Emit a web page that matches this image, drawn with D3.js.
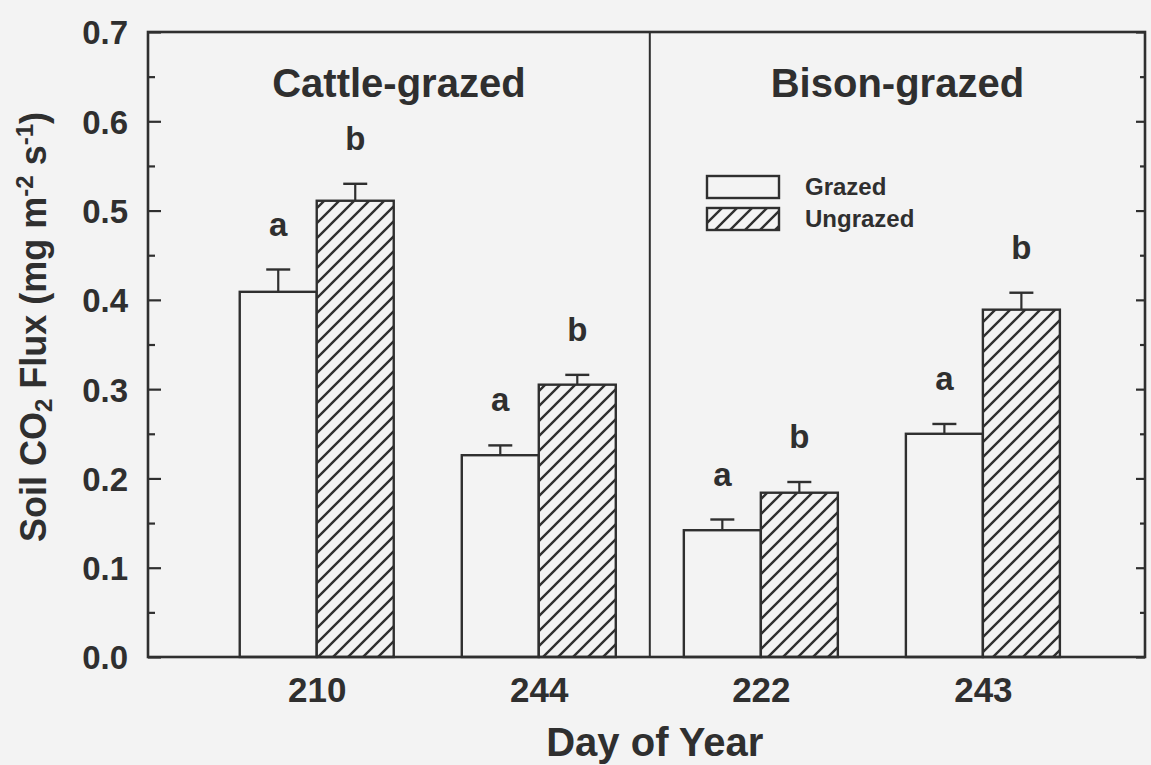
<!DOCTYPE html>
<html>
<head>
<meta charset="utf-8">
<script src="https://cdn.jsdelivr.net/npm/d3@7"></script>
<style>
  body { margin: 0; background: #f3f3f3; }
  text { font-family: "Liberation Sans", Arial, Helvetica, sans-serif; font-weight: bold; fill: #2f2f2f; }
</style>
</head>
<body>
<svg id="chart"></svg>
<script>
// Data
const days = ['210', '244', '222', '243'];
const sites = ['Cattle-grazed', 'Bison-grazed'];
const treatments = ['Grazed', 'Ungrazed'];
const grazedFlux = [0.409, 0.226, 0.142, 0.250];
const grazedSE = [0.025, 0.011, 0.012, 0.011];
const ungrazedFlux = [0.511, 0.305, 0.184, 0.389];
const ungrazedSE = [0.019, 0.011, 0.012, 0.019];
const grazedLetters = ['a', 'a', 'a', 'a'];
const ungrazedLetters = ['b', 'b', 'b', 'b'];
const yTicks = [0.0, 0.1, 0.2, 0.3, 0.4, 0.5, 0.6, 0.7];

const W = 1151, H = 765;
const margin = {top: 32, right: 6, bottom: 108, left: 148};
const ink = '#2f2f2f';

const svg = d3.select('#chart').attr('width', W).attr('height', H);
svg.append('rect').attr('width', W).attr('height', H).attr('fill', '#f3f3f3');

const defs = svg.append('defs');
const pat = defs.append('pattern')
    .attr('id', 'hatch')
    .attr('patternUnits', 'userSpaceOnUse')
    .attr('width', 15).attr('height', 15);
pat.append('rect').attr('width', 15).attr('height', 15).attr('fill', '#f3f3f3');
pat.append('path')
    .attr('d', 'M-2,17 L17,-2 M-5,5 L5,-5 M10,20 L20,10')
    .attr('stroke', ink).attr('stroke-width', 2.4);

const x0 = margin.left, x1 = W - margin.right;
const y0 = H - margin.bottom, y1 = margin.top;

const xScale = d3.scalePoint().domain(days).range([x0, x1]).padding(0.745).align(0.51);
const sub = d3.scaleBand().domain(treatments).range([-77, 77]);
const yScale = d3.scaleLinear().domain([0, 0.7]).range([y0, y1]);

const rows = days.map((d, i) => ([
  {day: d, t: 'Grazed', v: grazedFlux[i], se: grazedSE[i], letter: grazedLetters[i]},
  {day: d, t: 'Ungrazed', v: ungrazedFlux[i], se: ungrazedSE[i], letter: ungrazedLetters[i]}
])).flat();

const chart = svg.append('g');

// error bars (behind bars)
const eb = chart.selectAll('.err').data(rows).join('g').attr('class', 'err')
    .attr('transform', d => `translate(${xScale(d.day) + sub(d.t) + sub.bandwidth() / 2},0)`);
eb.append('line')
    .attr('y1', d => yScale(d.v)).attr('y2', d => yScale(d.v + d.se))
    .attr('stroke', ink).attr('stroke-width', 2.2);
eb.append('line')
    .attr('x1', -12).attr('x2', 12)
    .attr('y1', d => yScale(d.v + d.se)).attr('y2', d => yScale(d.v + d.se))
    .attr('stroke', ink).attr('stroke-width', 2.4);

// bars
chart.selectAll('.bar').data(rows).join('rect').attr('class', 'bar')
    .attr('x', d => xScale(d.day) + sub(d.t))
    .attr('width', sub.bandwidth())
    .attr('y', d => yScale(d.v))
    .attr('height', d => yScale(0) - yScale(d.v))
    .attr('fill', d => d.t === 'Grazed' ? '#f3f3f3' : 'url(#hatch)')
    .attr('stroke', ink).attr('stroke-width', 2.4);

// significance letters
chart.selectAll('.letter').data(rows).join('text').attr('class', 'letter')
    .attr('x', d => xScale(d.day) + sub(d.t) + sub.bandwidth() / 2)
    .attr('y', d => yScale(d.v + d.se) - 34)
    .attr('text-anchor', 'middle')
    .style('font-size', '33px')
    .text(d => d.letter);

// frame
chart.append('rect')
    .attr('x', x0).attr('y', y1).attr('width', x1 - x0).attr('height', y0 - y1)
    .attr('fill', 'none').attr('stroke', ink).attr('stroke-width', 2.6);

// divider between sites
const divX = (xScale(days[1]) + xScale(days[2])) / 2;
chart.append('line')
    .attr('x1', divX).attr('x2', divX).attr('y1', y1).attr('y2', y0)
    .attr('stroke', ink).attr('stroke-width', 2);

// y axis ticks (inside), left and right
const minor = d3.range(0.05, 0.7, 0.1);
const leftAxis = d3.axisLeft(yScale).tickValues(yTicks).tickSize(-13).tickPadding(20)
    .tickFormat(d3.format('.1f'));
const gy = chart.append('g').attr('transform', `translate(${x0},0)`).call(leftAxis);
gy.select('.domain').remove();
gy.selectAll('line').attr('stroke', ink).attr('stroke-width', 2.2);
gy.selectAll('text').style('font-size', '33px').attr('fill', ink).attr('dy', '0.36em');
chart.append('g').attr('transform', `translate(${x0},0)`)
    .call(d3.axisLeft(yScale).tickValues(minor).tickSize(-7).tickFormat(''))
    .call(g => g.select('.domain').remove())
    .selectAll('line').attr('stroke', ink).attr('stroke-width', 2.2);

chart.append('g').attr('transform', `translate(${x1},0)`)
    .call(d3.axisRight(yScale).tickValues(yTicks).tickSize(-9).tickFormat(''))
    .call(g => g.select('.domain').remove())
    .selectAll('line').attr('stroke', ink).attr('stroke-width', 2.2);
chart.append('g').attr('transform', `translate(${x1},0)`)
    .call(d3.axisRight(yScale).tickValues(minor).tickSize(-5).tickFormat(''))
    .call(g => g.select('.domain').remove())
    .selectAll('line').attr('stroke', ink).attr('stroke-width', 2.2);

// x axis labels
const gx = chart.append('g').attr('transform', `translate(0,${y0})`)
    .call(d3.axisBottom(xScale).tickSize(0).tickPadding(20));
gx.select('.domain').remove();
gx.selectAll('text').style('font-size', '35px').attr('fill', ink);

// site titles
const siteCenters = [(x0 + divX) / 2, (divX + x1) / 2];
chart.selectAll('.site').data(sites).join('text').attr('class', 'site')
    .attr('x', (d, i) => siteCenters[i])
    .attr('y', 97)
    .attr('text-anchor', 'middle')
    .style('font-size', '40px')
    .text(d => d);

// axis titles
svg.append('text')
    .attr('x', divX + 5).attr('y', 756)
    .attr('text-anchor', 'middle')
    .style('font-size', '40px')
    .text('Day of Year');

const yt = svg.append('text')
    .attr('transform', `translate(46,327) rotate(-90)`)
    .attr('text-anchor', 'middle')
    .style('font-size', '36px');
yt.append('tspan').text('Soil CO');
yt.append('tspan').attr('dy', 6).style('font-size', '24px').text('2');
yt.append('tspan').attr('dy', -6).text(' Flux (mg m');
yt.append('tspan').attr('dy', -13).style('font-size', '24px').text('-2');
yt.append('tspan').attr('dy', 13).text(' s');
yt.append('tspan').attr('dy', -13).style('font-size', '24px').text('-1');
yt.append('tspan').attr('dy', 13).text(')');

// legend
const legend = svg.append('g').attr('transform', 'translate(707,176)');
const li = legend.selectAll('g').data(treatments).join('g')
    .attr('transform', (d, i) => `translate(0,${i * 32})`);
li.append('rect')
    .attr('width', 72).attr('height', 22)
    .attr('fill', d => d === 'Grazed' ? '#f3f3f3' : 'url(#hatch)')
    .attr('stroke', ink).attr('stroke-width', 2.4);
li.append('text')
    .attr('x', 98).attr('y', 19)
    .style('font-size', '24px')
    .text(d => d);
</script>
</body>
</html>
